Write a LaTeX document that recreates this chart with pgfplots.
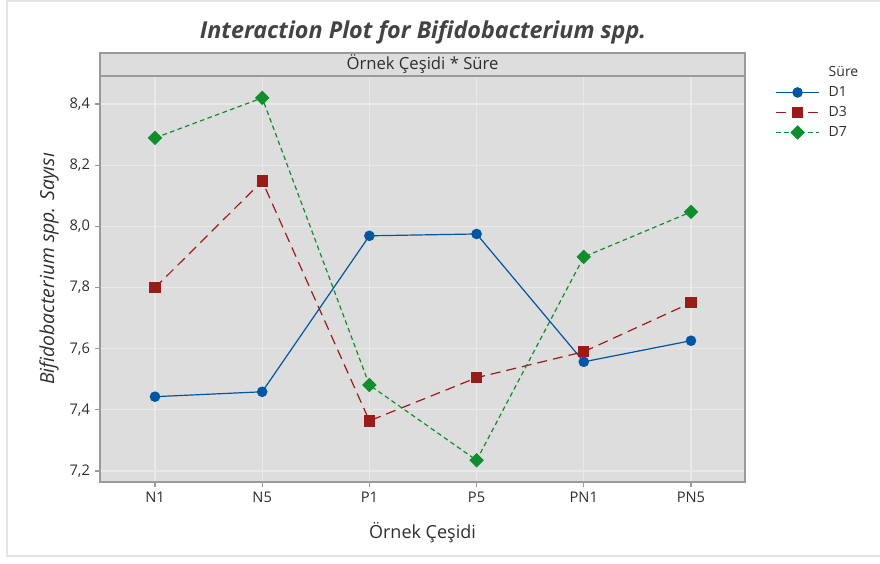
\documentclass[border=0pt]{standalone}
\usepackage{fontspec}
\setmainfont{Open Sans}
\usepackage{pgfplots}
\pgfplotsset{compat=1.18}
\definecolor{cD1}{HTML}{0055A5}
\definecolor{cD3}{HTML}{9B1B1B}
\definecolor{cD7}{HTML}{108E2E}
\definecolor{bg}{HTML}{DDDDDD}
\definecolor{gridc}{HTML}{E9E9E9}
\definecolor{frame}{HTML}{9A9A9A}
\definecolor{txt}{HTML}{2E2E2E}
\begin{document}
\begin{tikzpicture}
\path[use as bounding box] (0pt,0pt) rectangle (660pt,-422.25pt);
\draw[line width=1.5pt, color=gray!20] (5.25pt,0pt) -- (5.25pt,-417pt) -- (660pt,-417pt);
\draw[line width=1.5pt, color=gray!20] (5.25pt,-0.75pt) -- (660pt,-0.75pt);
\node[font=\fontsize{17.5}{20}\selectfont\bfseries\itshape, text=txt!90!white] at (317.25pt,-24pt) {Interaction Plot for Bifidobacterium spp.};
\begin{axis}[
  at={(75pt,-361.5pt)}, anchor=south west,
  scale only axis, width=483.75pt, height=304.5pt,
  xmin=-0.513, xmax=5.504, ymin=7.164, ymax=8.4915,
  xtick={0,1,2,3,4,5},
  xticklabels={N1,N5,P1,P5,PN1,PN5},
  ytick={7.2,7.4,7.6,7.8,8.0,8.2,8.4},
  /pgf/number format/.cd, fixed, fixed zerofill, precision=1, use comma, assume math mode=true,
  /pgfplots/.cd,
  axis background/.style={fill=bg},
  axis line style={color=frame, line width=1.1pt},
  grid=major, major grid style={color=gridc, line width=0.8pt},
  tick align=outside, major tick length=4pt,
  tick style={color=frame, line width=0.8pt},
  xtick pos=bottom, ytick pos=left,
  ticklabel style={font=\fontsize{11}{13}\selectfont, text=txt},
  xlabel={Örnek Çeşidi},
  xlabel style={font=\fontsize{13.5}{15}\selectfont, text=txt, at={(axis description cs:0.5,-0.124)}, anchor=center},
  ylabel={\itshape Bifidobacterium spp. Sayısı},
  ylabel style={font=\fontsize{14.5}{16}\selectfont, text=txt, at={(axis description cs:-0.079,0.525)}, anchor=center, rotate=0},
  legend style={at={(axis description cs:1.041,1.034)}, anchor=north west, draw=none, fill=none,
    font=\fontsize{10.5}{12}\selectfont, text=txt, row sep=4pt,
    nodes={text height=7.5pt, text depth=1.5pt, inner sep=1pt},
    /tikz/every odd column/.append style={column sep=6pt}},
  legend cell align=left,
  legend image code/.code={\draw[mark repeat=2,mark phase=2,#1] plot coordinates {(0cm,0cm) (0.56cm,0cm) (1.12cm,0cm)};},
  clip=false,
]
\addlegendimage{empty legend}
\addlegendentry{Süre}
\addplot[color=cD1, line width=0.9pt, mark=*, mark size=3.5pt, mark options={solid, fill=cD1, draw=cD1}]
  coordinates {(0,7.443) (1,7.459) (2,7.969) (3,7.975) (4,7.557) (5,7.626)};
\addlegendentry{D1}
\addplot[color=cD3, line width=0.9pt, dash pattern=on 7.5pt off 4.5pt, mark=square*, mark size=3.8pt, mark options={solid, fill=cD3, draw=cD3}]
  coordinates {(0,7.799) (1,8.148) (2,7.364) (3,7.505) (4,7.590) (5,7.750)};
\addlegendentry{D3}
\addplot[color=cD7, line width=0.9pt, dash pattern=on 3.5pt off 2.5pt, mark=square*, mark size=3.4pt, mark options={solid, rotate=45, fill=cD7, draw=cD7}]
  coordinates {(0,8.289) (1,8.420) (2,7.481) (3,7.235) (4,7.900) (5,8.047)};
\addlegendentry{D7}
\draw[color=frame, line width=1.1pt, fill=bg] (axis description cs:0,1) rectangle (axis description cs:1,1.0567);
\node[font=\fontsize{12.5}{14}\selectfont, text=txt] at (axis description cs:0.5,1.0283) {Örnek Çeşidi * Süre};
\end{axis}
\end{tikzpicture}
\end{document}
